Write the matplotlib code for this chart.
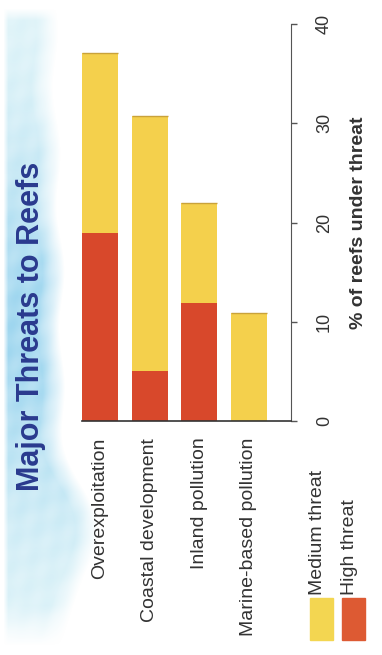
import numpy as np
import matplotlib
matplotlib.use("Agg")
import matplotlib.pyplot as plt

# Share of reefs under threat, by source (percent)
categories = ["Overexploitation", "Coastal development", "Inland pollution", "Marine-based pollution"]
high_threat = [18.9, 5.0, 11.9, 0.0]
total_threat = [37.1, 30.7, 22.0, 10.9]
medium_threat = [t - h for t, h in zip(total_threat, high_threat)]
y_ticks = [0, 10, 20, 30, 40]

RED = "#d8482b"
YELLOW = "#f4d04c"
TEXT = "#333333"
TITLE = "#2a3a8e"

W, H = 382, 655
fig = plt.figure(figsize=(W / 100, H / 100), dpi=100)
fig.patch.set_facecolor("white")

# Soft watercolour wash down the left edge
bg = fig.add_axes([0, 0, 1, 1], zorder=-10)
xx, yy = np.meshgrid(np.arange(W, dtype=float), np.arange(H, dtype=float))
mid = np.exp(-((yy - 330) / 190.0) ** 2)          # stronger blue behind the title
low = np.exp(-((yy - 540) / 70.0) ** 2)           # wider pale patch near the bottom
edge = 54 + 8 * mid + 40 * low + 3 * np.sin(yy / 19.0)
alpha = np.clip((edge - xx) / 22.0, 0, 1)
alpha *= np.clip((xx - 3) / 5.0, 0, 1)
alpha *= np.clip((yy - 8) / 12.0, 0, 1)
alpha *= np.clip((H - 10 - yy) / 40.0, 0, 1)
alpha *= 0.6 + 0.4 * mid
alpha *= 0.9 + 0.1 * np.sin(xx / 5.0 + yy / 7.0) * np.cos(yy / 11.0 - xx / 9.0)
img = np.zeros((H, W, 4))
img[..., 0] = 0.80 - 0.18 * mid
img[..., 1] = 0.93 - 0.09 * mid
img[..., 2] = 0.96 - 0.02 * mid
img[..., 3] = alpha
bg.imshow(img, aspect="auto", interpolation="bilinear")
bg.set_axis_off()

ax = fig.add_axes([82 / W, 1 - 421 / H, (291 - 82) / W, (421 - 24) / H])
ax.set_facecolor("none")
pos = np.arange(len(categories))
width = 0.73
ax.bar(pos, high_threat, width, color=RED, label="High threat", zorder=2)
ax.bar(pos, medium_threat, width, bottom=high_threat, color=YELLOW,
       label="Medium threat", zorder=2)
# slightly darker top edge on each bar
ax.hlines(total_threat, pos - width / 2, pos + width / 2, color="#c9a23a", lw=1.0, zorder=3)

ax.set_xlim(-width / 2, 3.85)
ax.set_ylim(0, 40)
ax.spines["left"].set_visible(False)
ax.spines["top"].set_visible(False)
ax.spines["right"].set_color("#555555")
ax.spines["bottom"].set_color("#333333")
ax.spines["bottom"].set_linewidth(1.2)

ax.yaxis.tick_right()
ax.set_yticks(y_ticks)
ax.set_yticklabels([str(v) for v in y_ticks], rotation=90, va="center",
                   fontsize=13, color=TEXT, family="Liberation Sans")
ax.tick_params(axis="y", direction="out", length=4, width=1, color="#555555", pad=14)
ax.yaxis.set_label_position("right")
ax.set_ylabel("% of reefs under threat", rotation=90, fontsize=14,
              fontweight="bold", color=TEXT, family="Liberation Sans", labelpad=12)

ax.set_xticks(pos)
ax.set_xticklabels(categories, rotation=90, ha="center", va="top",
                   fontsize=14, color=TEXT, family="Liberation Sans")
ax.tick_params(axis="x", length=0, pad=12)

fig.text(31 / W, 1 - 326 / H, "Major Threats to Reefs", rotation=90,
         ha="center", va="center", fontsize=22, fontweight="bold", color=TITLE,
         family="Liberation Sans")

# legend swatches with rotated labels
for x0, col, lab in [(310, "#f3d651", "Medium threat"), (342, "#dd5a33", "High threat")]:
    fig.patches.append(plt.Rectangle((x0 / W, 1 - 640 / H), 23 / W, 42 / H,
                                     transform=fig.transFigure, color=col, zorder=2))
    fig.text((x0 + 7) / W, 1 - 595 / H, lab, rotation=90, ha="center", va="bottom",
             fontsize=14, color=TEXT, family="Liberation Sans")

fig.savefig("out.png", dpi=100)
